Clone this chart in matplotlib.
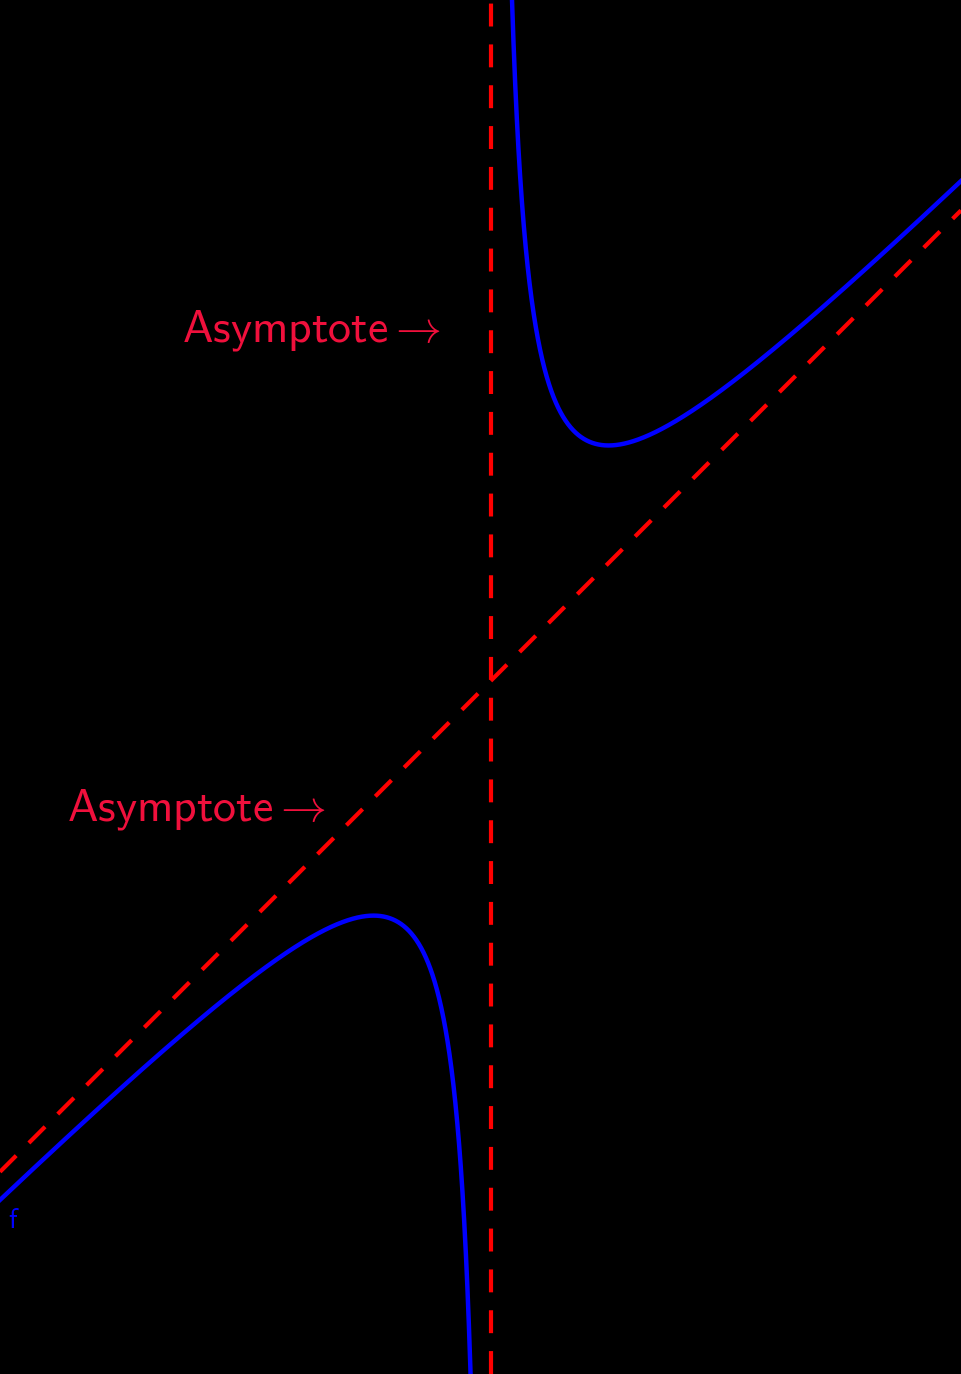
import numpy as np
import matplotlib.pyplot as plt

plt.rcParams['mathtext.fontset'] = 'cm'

# f(x) = slope*x + intercept + k/(x - pole)
pole = 0.0
slope = 1.0
intercept = 0.0
k = 1.0

x_lim = [-4.18, 4.0]
y_lim = [-5.90, 5.79]

labels = [r'$\mathsf{Asymptote}\rightarrow$', r'$\mathsf{Asymptote}\rightarrow$']
label_x = [-0.43, -1.41]
label_y = [2.98, -1.10]


def f(x):
    return slope * x + intercept + k / (x - pole)


fig = plt.figure(figsize=(9.61, 13.74), dpi=100, facecolor='black')
ax = fig.add_axes([0, 0, 1, 1])
ax.set_facecolor('black')

xl = np.linspace(x_lim[0], pole - 1e-3, 2000)
xr = np.linspace(pole + 1e-3, x_lim[1], 2000)
ax.plot(xl, f(xl), color='#0000ff', lw=3.2)
ax.plot(xr, f(xr), color='#0000ff', lw=3.2)

xa = np.array(x_lim)
ax.plot(xa, slope * xa + intercept, color='#ff0000', lw=3, dashes=(5.5, 4.3))
ax.plot([pole, pole], y_lim, color='#ff0000', lw=3, dashes=(5.5, 4.3))

for t, lx, ly in zip(labels, label_x, label_y):
    ax.text(lx, ly, t, color='#f0103c', fontsize=33, ha='right', va='center')

ax.text(-4.06, -4.59, r'$\mathsf{f}$', color='#0000ff', fontsize=20, ha='center', va='center')

ax.set_xlim(x_lim)
ax.set_ylim(y_lim)
ax.axis('off')

fig.savefig('out.png', dpi=100, facecolor='black')
